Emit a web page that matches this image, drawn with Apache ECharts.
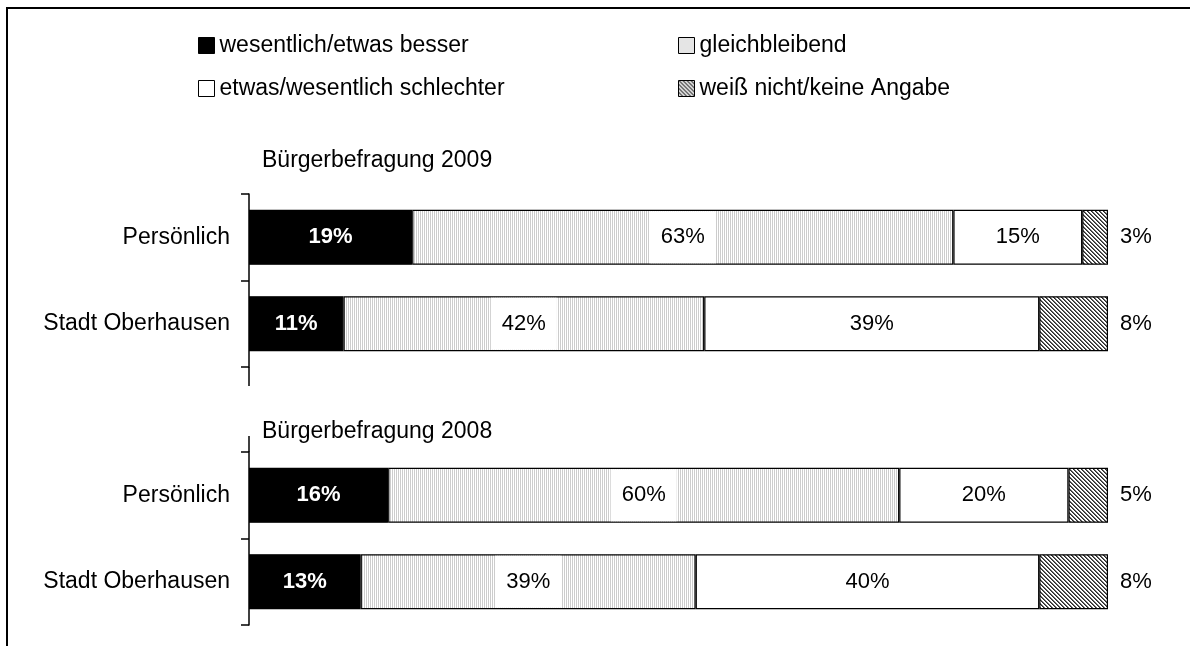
<!DOCTYPE html>
<html>
<head>
<meta charset="utf-8">
<script src="https://cdn.jsdelivr.net/npm/echarts@6/dist/echarts.min.js"></script>
<style>html,body{margin:0;padding:0;background:#fff}#c{width:1190px;height:646px}</style>
</head>
<body>
<div id="c"></div>
<script>
// ---- data ----
const categories = ['Persönlich', 'Stadt Oberhausen'];
const groupTitles = ['Bürgerbefragung 2009', 'Bürgerbefragung 2008'];
const seriesNames = ['wesentlich/etwas besser', 'gleichbleibend', 'etwas/wesentlich schlechter', 'weiß nicht/keine Angabe'];
// 2009
const besser2009 = [19, 11];
const gleich2009 = [63, 42];
const schlechter2009 = [15, 39];
const weissNicht2009 = [3, 8];
// 2008
const besser2008 = [16.2, 13];
const gleich2008 = [59.5, 39];
const schlechter2008 = [19.7, 40];
const weissNicht2008 = [4.6, 8];

const FONT = 'Liberation Sans, Arial, sans-serif';

function makePattern(kind) {
  const c = document.createElement('canvas');
  const ctx = c.getContext('2d');
  if (kind === 'vert') {
    c.width = 2; c.height = 2;
    ctx.fillStyle = '#ffffff'; ctx.fillRect(0, 0, 2, 2);
    ctx.fillStyle = '#cccccc'; ctx.fillRect(0, 0, 1, 2);
  } else {
    c.width = 4; c.height = 4;
    ctx.fillStyle = '#ffffff'; ctx.fillRect(0, 0, 4, 4);
    for (let x = 0; x < 4; x++) {
      for (let y = 0; y < 4; y++) {
        const d = ((x - y) % 4 + 4) % 4;
        if (d === 0) { ctx.fillStyle = '#2a2a2a'; ctx.fillRect(x, y, 1, 1); }
        else if (d === 1) { ctx.fillStyle = '#6a6a6a'; ctx.fillRect(x, y, 1, 1); }
      }
    }
  }
  return { image: c, repeat: 'repeat' };
}
const fills = ['#000000', makePattern('vert'), '#ffffff', makePattern('hatch')];

const pct = v => Math.round(v) + '%';
const labels = [
  { show: true, position: 'inside', color: '#fff', fontWeight: 'bold', fontSize: 22, fontFamily: FONT, formatter: p => pct(p.value) },
  { show: true, position: 'inside', color: '#000', fontSize: 22, fontFamily: FONT, backgroundColor: '#fff', padding: [15, 11], lineHeight: 22, formatter: p => pct(p.value) },
  { show: true, position: 'inside', color: '#000', fontSize: 22, fontFamily: FONT, formatter: p => pct(p.value) },
  { show: true, position: 'right', distance: 12, color: '#000', fontSize: 22, fontFamily: FONT, formatter: p => pct(p.value) }
];

const groups = [
  [besser2009, gleich2009, schlechter2009, weissNicht2009],
  [besser2008, gleich2008, schlechter2008, weissNicht2008]
];

const series = [];
groups.forEach((g, gi) => {
  g.forEach((vals, si) => {
    series.push({
      name: seriesNames[si], type: 'bar', stack: 'g' + gi,
      xAxisIndex: gi, yAxisIndex: gi, barWidth: 55,
      data: vals,
      itemStyle: { color: fills[si], borderColor: '#000', borderWidth: 1.2 },
      label: labels[si],
      emphasis: { disabled: true },
      animation: false
    });
  });
});

const grids = [
  { left: 249, top: 194, width: 859, height: 173 },
  { left: 249, top: 452, width: 859, height: 173 }
];

const yAxisCommon = {
  type: 'category', inverse: true, data: categories,
  axisLine: { show: true, lineStyle: { color: '#000', width: 1.5 } },
  axisTick: { show: true, inside: false, alignWithLabel: false, length: 8, lineStyle: { color: '#000', width: 1.5 } },
  axisLabel: { color: '#000', fontSize: 23, fontFamily: FONT, margin: 19 }
};

const legendPos = [[198, 34], [678, 34], [198, 77], [678, 77]];
const legends = seriesNames.map((n, i) => ({
  data: [{ name: n, itemStyle: { color: fills[i], borderColor: '#000', borderWidth: 1 } }],
  left: legendPos[i][0], top: legendPos[i][1], padding: 0,
  icon: 'rect', itemWidth: 16, itemHeight: 16,
  selectedMode: false,
  textStyle: { color: '#000', fontSize: 23, fontFamily: FONT }
}));

const option = {
  backgroundColor: '#fff',
  animation: false,
  title: groupTitles.map((t, i) => ({
    text: t, left: 262, top: i === 0 ? 149 : 420, padding: 0,
    textStyle: { color: '#000', fontSize: 23, fontWeight: 'normal', fontFamily: FONT }
  })),
  legend: legends,
  grid: grids,
  xAxis: grids.map((_, i) => ({ gridIndex: i, type: 'value', min: 0, max: 100, show: false })),
  yAxis: grids.map((_, i) => Object.assign({ gridIndex: i }, yAxisCommon)),
  series: series,
  graphic: [
    { type: 'rect', shape: { x: 7, y: 8, width: 1220, height: 700 }, style: { fill: 'none', stroke: '#000', lineWidth: 2 }, silent: true },
    { type: 'line', shape: { x1: 249, y1: 367, x2: 249, y2: 386 }, style: { stroke: '#000', lineWidth: 1.5 }, silent: true },
    { type: 'line', shape: { x1: 249, y1: 436, x2: 249, y2: 452 }, style: { stroke: '#000', lineWidth: 1.5 }, silent: true }
  ]
};

const chart = echarts.init(document.getElementById('c'), null, { renderer: 'canvas' });
chart.setOption(option);
</script>
</body>
</html>
